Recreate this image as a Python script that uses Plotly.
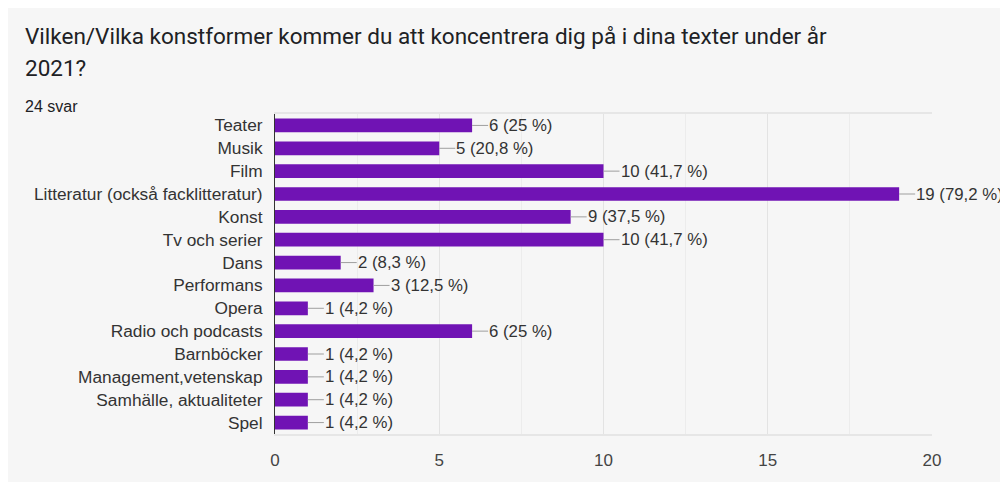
import plotly.graph_objects as go

# Survey answers (24 svar)
categories = [
    "Teater", "Musik", "Film", "Litteratur (också facklitteratur)", "Konst",
    "Tv och serier", "Dans", "Performans", "Opera", "Radio och podcasts",
    "Barnböcker", "Management,vetenskap", "Samhälle, aktualiteter", "Spel",
]
counts = [6, 5, 10, 19, 9, 10, 2, 3, 1, 6, 1, 1, 1, 1]
percents = ["25", "20,8", "41,7", "79,2", "37,5", "41,7", "8,3", "12,5",
            "4,2", "25", "4,2", "4,2", "4,2", "4,2"]
x_ticks = [0, 5, 10, 15, 20]

title_lines = ["Vilken/Vilka konstformer kommer du att koncentrera dig på i dina texter under år",
               "2021?"]
subtitle = "24 svar"

# the page body has an 8px margin, so the figure starts at (8, 8)
OFF = 8
W, H = 1000, 474
L, R, T, B = 275 - OFF, 76, 114 - OFF, 39
pw, ph = W - L - R, H - T - B

def px_x(p):
    # page pixel -> paper x
    return (p - OFF - L) / pw

def px_y(p):
    # page pixel -> paper y
    return (H + OFF - B - p) / ph

fig = go.Figure()
fig.add_trace(go.Bar(
    x=counts, y=categories, orientation="h",
    marker=dict(color="#7013b4", line=dict(width=0)),
    width=0.6, hoverinfo="skip",
))

# value labels with short leader lines
for c, cat, p in zip(counts, categories, percents):
    fig.add_annotation(
        x=c, y=cat, xref="x", yref="y",
        text=f"{c} ({p} %)", showarrow=True, arrowhead=0,
        arrowwidth=1, arrowcolor="#9e9e9e", ax=16, ay=0,
        xanchor="left", borderpad=0,
        font=dict(family="Liberation Sans, Arial", size=16.8, color="#333333"),
    )

# card background
fig.add_shape(type="rect", xref="paper", yref="paper",
              x0=px_x(4), x1=px_x(W + 20), y0=px_y(H + 30), y1=px_y(8),
              fillcolor="#f6f6f6", line=dict(width=0), layer="below")

# title and subtitle
for i, line in enumerate(title_lines):
    fig.add_annotation(
        x=px_x(23), y=px_y(34 + 33 * i), xref="paper", yref="paper",
        text=line, showarrow=False, xanchor="left", yanchor="middle",
        font=dict(family="Roboto, Open Sans", size=22.5, color="#202124"),
    )
fig.add_annotation(
    x=px_x(23), y=px_y(106), xref="paper", yref="paper",
    text=subtitle, showarrow=False, xanchor="left", yanchor="middle",
    font=dict(family="Liberation Sans, Arial", size=16, color="#202124"),
)

fig.update_layout(
    width=W, height=H,
    margin=dict(l=L, r=R, t=T, b=B),
    paper_bgcolor="#f6f6f6", plot_bgcolor="#f6f6f6",
    showlegend=False,
    bargap=0.4,
    xaxis=dict(
        range=[0, 20], tickvals=x_ticks, showgrid=True, gridcolor="#e3e3e3",
        gridwidth=1, zeroline=False, showline=True, mirror=True,
        linecolor="#e6e6e6", linewidth=2, ticks="", ticklabelstandoff=10,
        tickfont=dict(family="Liberation Sans, Arial", size=17, color="#444444"),
        minor=dict(dtick=2.5, showgrid=True, gridcolor="#ececec", gridwidth=1),
        fixedrange=True,
    ),
    yaxis=dict(
        categoryorder="array", categoryarray=categories, autorange="reversed",
        showline=True, linecolor="#333333", linewidth=1, ticks="",
        ticklabelstandoff=8, showgrid=False, zeroline=False,
        tickfont=dict(family="Liberation Sans, Arial", size=17.3, color="#333333"),
        fixedrange=True,
    ),
)

fig.write_html("out.html", config={"displayModeBar": False})
